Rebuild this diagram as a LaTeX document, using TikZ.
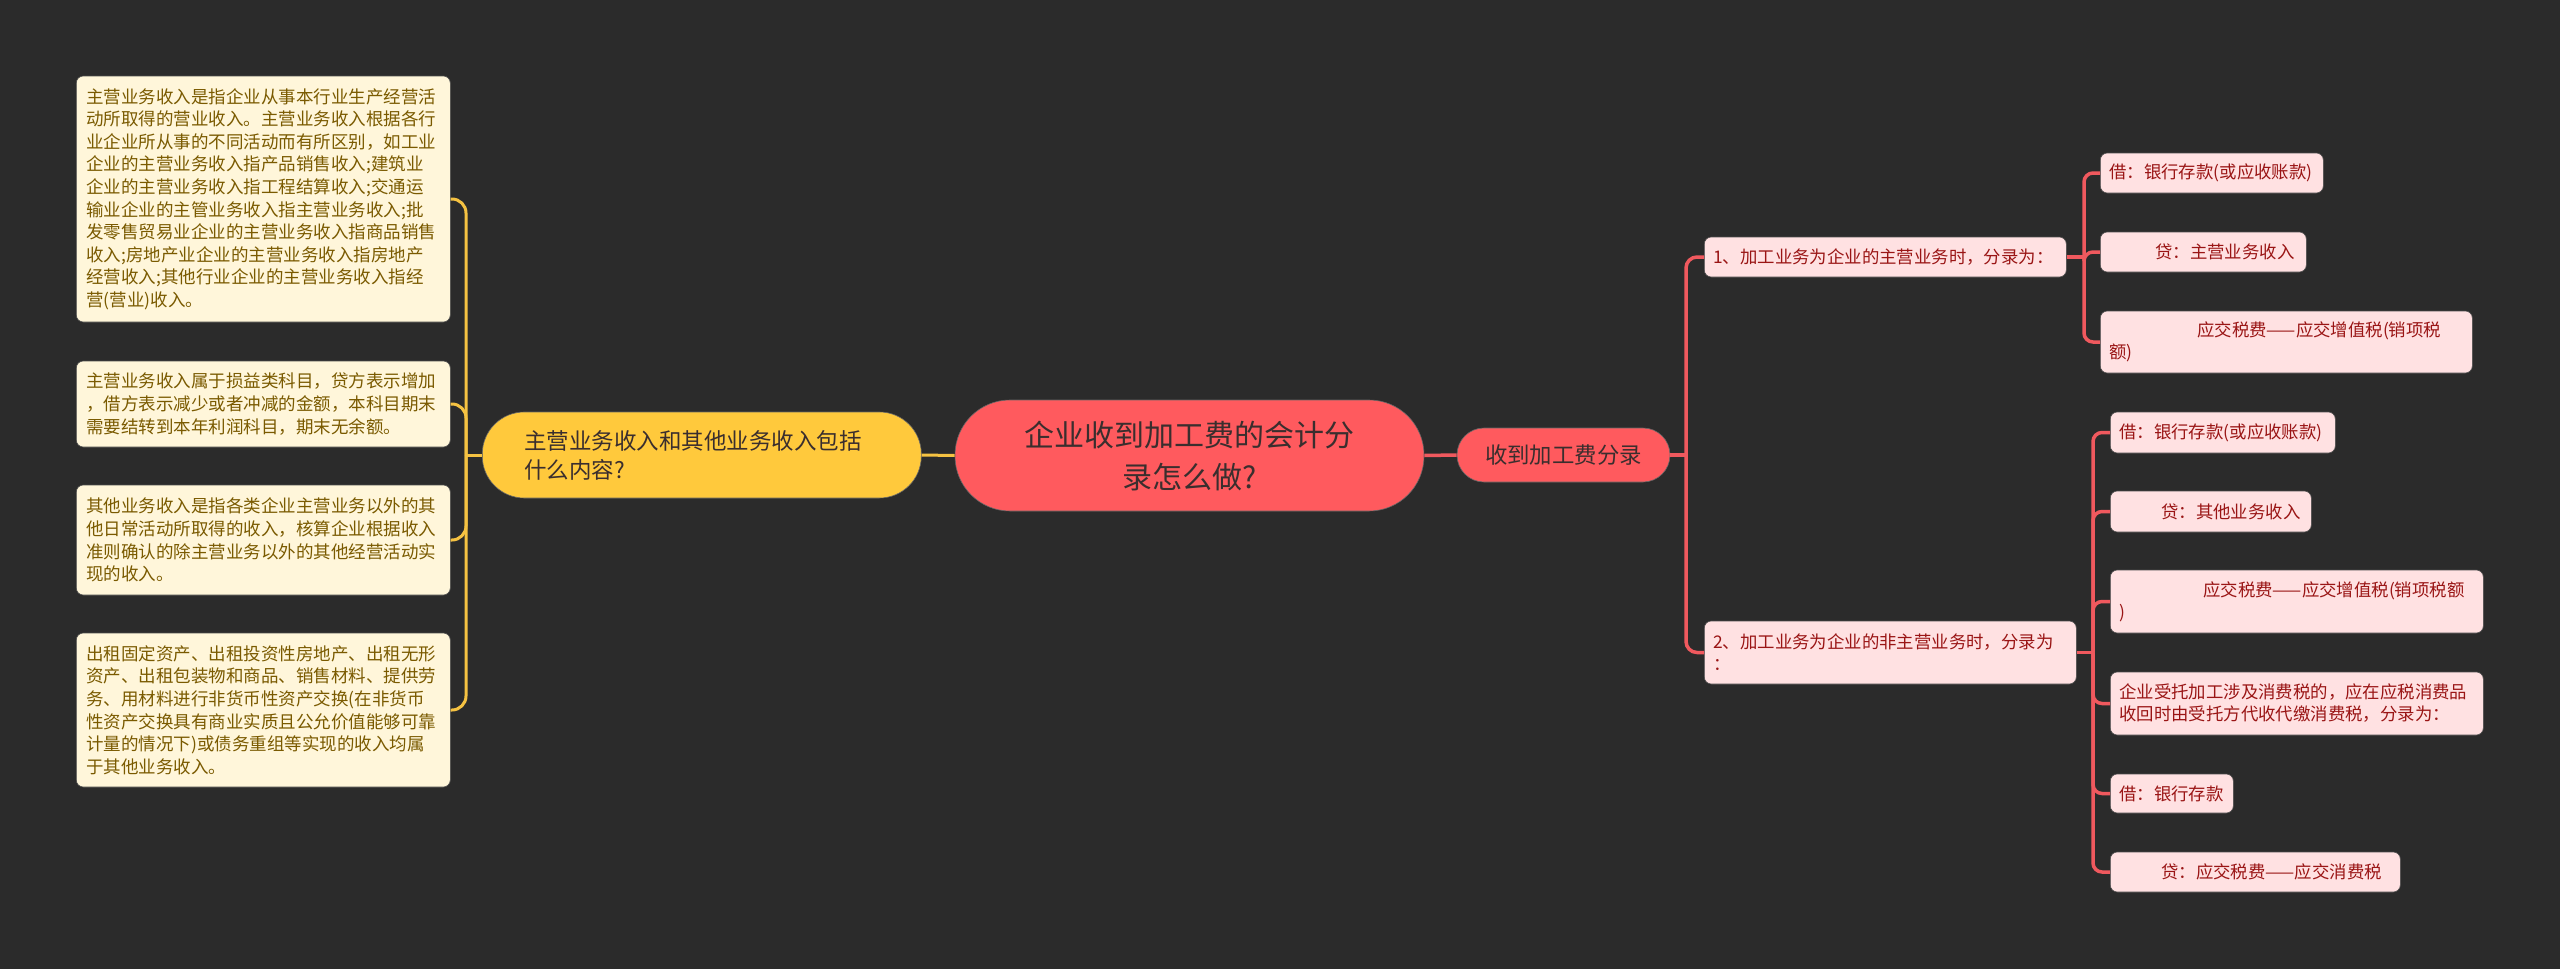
\documentclass[tikz,border=0pt]{standalone}
\usepackage{fontspec}
\setmainfont{Noto Sans CJK SC}
\definecolor{bg}{HTML}{2B2B2B}
\definecolor{cred}{HTML}{FF5A5E}
\definecolor{cyel}{HTML}{FFC93C}
\definecolor{lyel}{HTML}{F5C242}
\definecolor{lred}{HTML}{F0595E}
\definecolor{cream}{HTML}{FFF6DA}
\definecolor{creamtext}{HTML}{7A5A00}
\definecolor{pink}{HTML}{FFE1E2}
\definecolor{pinktext}{HTML}{9A1515}
\definecolor{darktext}{HTML}{3A2E2E}
\tikzset{
  creambox/.style={fill=cream, draw=black!70, line width=0.6pt, rounded corners=7pt, inner xsep=10pt, inner ysep=0pt, align=left, anchor=west, text=creamtext, font=\fontsize{17.5}{22.6}\selectfont},
  pinkbox/.style={fill=pink, draw=black!70, line width=0.6pt, rounded corners=7pt, inner xsep=9pt, inner ysep=0pt, align=left, anchor=west, text=pinktext, font=\fontsize{17.4}{22}\selectfont},
  yline/.style={draw=lyel, line width=3pt},
  rline/.style={draw=lred, line width=3.5pt},
}
\begin{document}
\begin{tikzpicture}[x=1pt,y=-1pt]
\fill[bg] (0,0) rectangle (2560,969);
\useasboundingbox (0,0) rectangle (2560,969);

% central
\node[fill=cred, draw=black!60, line width=0.6pt, rounded corners=55pt, minimum width=469pt, minimum height=111pt, align=center, text=darktext, font=\fontsize{30}{42}\selectfont, inner sep=0pt] (root) at (1189.5,455.5) {企业收到加工费的会计分\\录怎么做?};

% yellow main branch
\node[fill=cyel, draw=black!60, line width=0.6pt, rounded corners=42pt, minimum height=86pt, text width=355pt, inner xsep=42pt, inner ysep=0pt, align=left, text=darktext, font=\fontsize{22.5}{29}\selectfont, anchor=west] (yel) at (482,455) {主营业务收入和其他业务收入包括\\什么内容?};

% red main branch
\node[fill=cred, draw=black!60, line width=0.6pt, rounded corners=27pt, minimum width=213pt, minimum height=54pt, align=center, text=darktext, font=\fontsize{22.4}{28}\selectfont, inner sep=0pt] (sd) at (1563.5,455) {收到加工费分录};

% left cream boxes
\node[creambox, text width=354pt, minimum height=246pt] (L1) at (76,199) {主营业务收入是指企业从事本行业生产经营活\\动所取得的营业收入。主营业务收入根据各行\\业企业所从事的不同活动而有所区别，如工业\\企业的主营业务收入指产品销售收入;建筑业\\企业的主营业务收入指工程结算收入;交通运\\输业企业的主管业务收入指主营业务收入;批\\发零售贸易业企业的主营业务收入指商品销售\\收入;房地产业企业的主营业务收入指房地产\\经营收入;其他行业企业的主营业务收入指经\\营(营业)收入。};
\node[creambox, text width=354pt, minimum height=86pt] (L2) at (76,404) {主营业务收入属于损益类科目，贷方表示增加\\，借方表示减少或者冲减的金额，本科目期末\\需要结转到本年利润科目，期末无余额。};
\node[creambox, text width=354pt, minimum height=110pt] (L3) at (76,540) {其他业务收入是指各类企业主营业务以外的其\\他日常活动所取得的收入，核算企业根据收入\\准则确认的除主营业务以外的其他经营活动实\\现的收入。};
\node[creambox, text width=354pt, minimum height=154pt] (L4) at (76,710) {出租固定资产、出租投资性房地产、出租无形\\资产、出租包装物和商品、销售材料、提供劳\\务、用材料进行非货币性资产交换(在非货币\\性资产交换具有商业实质且公允价值能够可靠\\计量的情况下)或债务重组等实现的收入均属\\于其他业务收入。};

% right second level
\node[pinkbox, text width=344pt, minimum height=40pt] (r1) at (1704,257) {1、加工业务为企业的主营业务时，分录为：};
\node[pinkbox, text width=354pt, minimum height=63pt] (r2) at (1704,652.5) {2、加工业务为企业的非主营业务时，分录为\\：};

% right third level (branch 1)
\node[pinkbox, text width=205pt, minimum height=40pt] (a1) at (2100,173) {借：银行存款(或应收账款)};
\node[pinkbox, text width=188pt, minimum height=40pt] (a2) at (2100,252) {\hspace*{46pt}贷：主营业务收入};
\node[pinkbox, text width=354pt, minimum height=62pt] (a3) at (2100,342) {\hspace*{88pt}应交税费——应交增值税(销项税\\额)};

% right third level (branch 2)
\node[pinkbox, text width=207pt, minimum height=41pt] (b1) at (2110,432.5) {借：银行存款(或应收账款)};
\node[pinkbox, text width=183pt, minimum height=41pt] (b2) at (2110,511.5) {\hspace*{42pt}贷：其他业务收入};
\node[pinkbox, text width=355pt, minimum height=63pt] (b3) at (2110,601.5) {\hspace*{84pt}应交税费——应交增值税(销项税额\\)};
\node[pinkbox, text width=355pt, minimum height=63pt] (b4) at (2110,703.5) {企业受托加工涉及消费税的，应在应税消费品\\收回时由受托方代收代缴消费税，分录为：};
\node[pinkbox, text width=105pt, minimum height=39pt] (b5) at (2110,793.5) {借：银行存款};
\node[pinkbox, text width=272pt, minimum height=40pt] (b6) at (2110,872) {\hspace*{42pt}贷：应交税费——应交消费税};

% spine coordinates
\coordinate (ys) at (466,455);
\coordinate (rs) at (1686,455);
\coordinate (r1s) at (2084,257);
\coordinate (r2s) at (2093,652.5);

% connectors
\draw[yline] (root.west) -- (yel.east);
\draw[rline] (root.east) -- (sd.west);
\draw[yline] (yel.west) -- (ys);
\foreach \n in {L1,L2,L3,L4} {\draw[yline, rounded corners=14pt] (ys) |- (\n.east);}
\draw[rline] (sd.east) -- (rs);
\foreach \n in {r1,r2} {\draw[rline, rounded corners=11pt] (rs) |- (\n.west);}
\draw[rline] (r1.east) -- (r1s);
\foreach \n in {a1,a2,a3} {\draw[rline, rounded corners=9pt] (r1s) |- (\n.west);}
\draw[rline] (r2.east) -- (r2s);
\foreach \n in {b1,b2,b3,b4,b5,b6} {\draw[rline, rounded corners=9pt] (r2s) |- (\n.west);}
\end{tikzpicture}
\end{document}
